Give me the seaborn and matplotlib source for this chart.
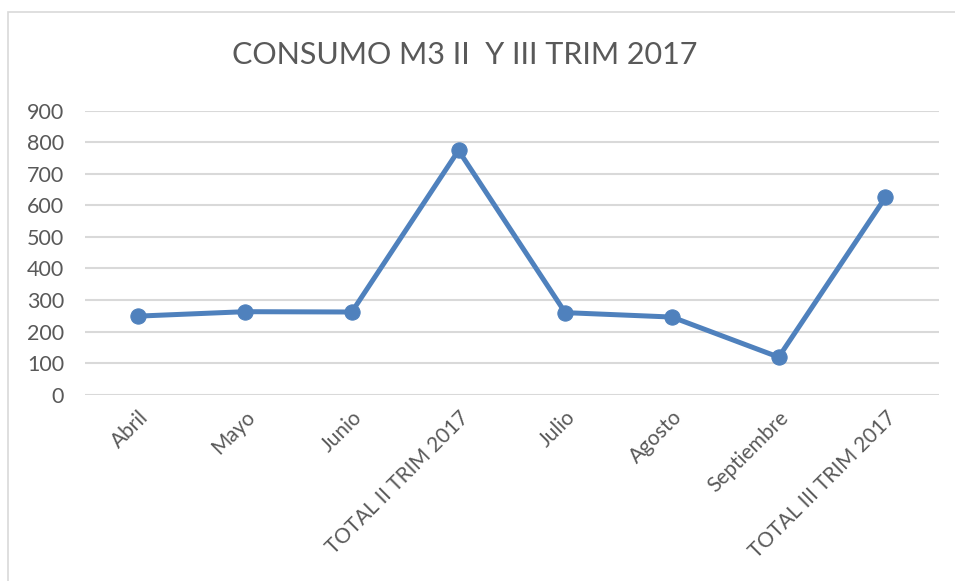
import matplotlib
matplotlib.use("Agg")
import matplotlib.pyplot as plt
import seaborn as sns
import pandas as pd
from matplotlib.patches import Rectangle

# data
categorias = ["Abril", "Mayo", "Junio", "TOTAL II TRIM 2017",
              "Julio", "Agosto", "Septiembre", "TOTAL III TRIM 2017"]
consumo_m3 = [249, 263, 262, 774, 260, 246, 119, 625]
y_ticks = [0, 100, 200, 300, 400, 500, 600, 700, 800, 900]

df = pd.DataFrame({"pos": range(len(categorias)), "consumo": consumo_m3})

sns.set_theme(style="white")
plt.rcParams["font.family"] = ["Lato", "DejaVu Sans"]

texto = "#595959"
azul = "#4F81BD"

fig = plt.figure(figsize=(9.55, 5.81), dpi=100)
ax = fig.add_axes([0.089, 0.3207, 0.894, 0.4888])

sns.lineplot(data=df, x="pos", y="consumo", ax=ax, color=azul,
             linewidth=3.6, marker="o", markersize=11,
             markeredgecolor=azul, markerfacecolor=azul)

ax.set_xlim(-0.5, len(categorias) - 0.5)
ax.set_ylim(0, 900)
ax.set_yticks(y_ticks)
ax.set_yticklabels([str(v) for v in y_ticks], fontsize=15.5, color=texto)
ax.set_xticks(range(len(categorias)))
ax.set_xticklabels(categorias, fontsize=15, color=texto, rotation=45,
                   ha="right", va="top", rotation_mode="anchor")
ax.tick_params(axis="y", length=0, pad=15)
ax.tick_params(axis="x", length=0, pad=9)
ax.set_xlabel("")
ax.set_ylabel("")
ax.yaxis.grid(True, color="#D9D9D9", linewidth=1.5)
ax.set_axisbelow(True)
for s in ax.spines.values():
    s.set_visible(False)

fig.text(0.487, 0.905, "CONSUMO M3 II  Y III TRIM 2017", ha="center",
         va="center", fontsize=22, color=texto)

# chart border (Excel style)
fig.patches.append(Rectangle((8 / 955, -0.1), 1.2, 1 - 12.5 / 581 + 0.1,
                             transform=fig.transFigure, fill=False,
                             edgecolor="#D9D9D9", linewidth=1.2))

fig.savefig("out.png", dpi=100)
